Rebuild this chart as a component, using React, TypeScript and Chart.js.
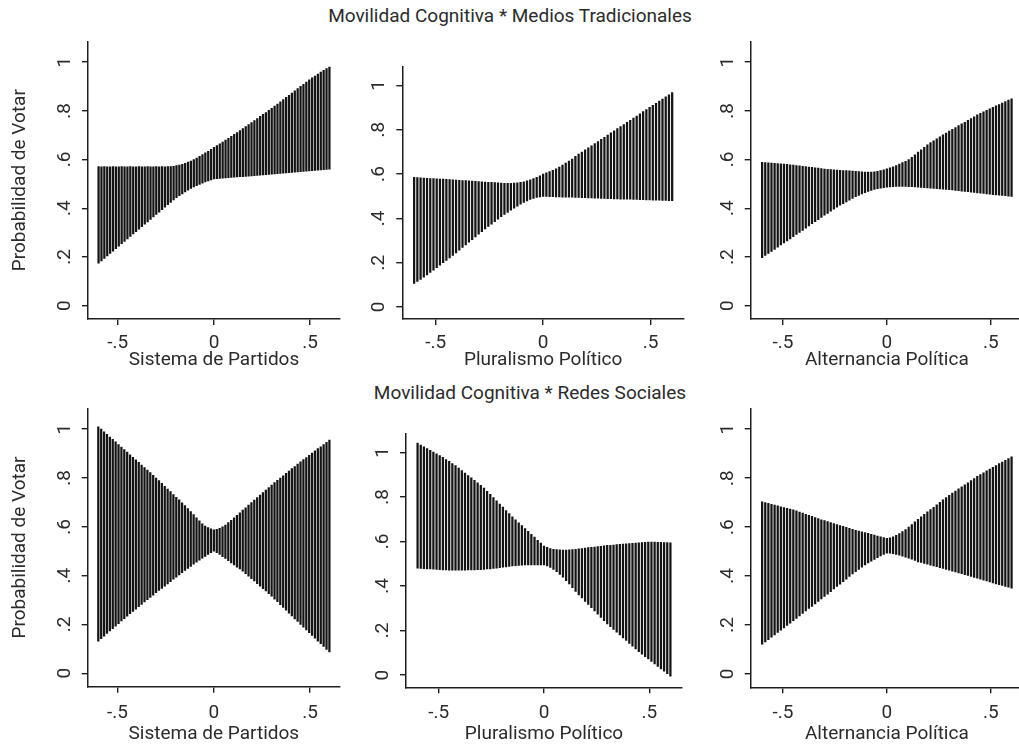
import React, { useEffect, useRef } from 'react';
import { Chart, registerables } from 'chart.js';

Chart.register(...registerables);

// ---------- data ----------
const X = [
  -0.6, -0.585, -0.57, -0.555, -0.54, -0.525, -0.51, -0.495, -0.48, -0.465,
  -0.45, -0.435, -0.42, -0.405, -0.39, -0.375, -0.36, -0.345, -0.33, -0.315,
  -0.3, -0.285, -0.27, -0.255, -0.24, -0.225, -0.21, -0.195, -0.18, -0.165,
  -0.15, -0.135, -0.12, -0.105, -0.09, -0.075, -0.06, -0.045, -0.03, -0.015,
  0, 0.015, 0.03, 0.045, 0.06, 0.075, 0.09, 0.105, 0.12, 0.135,
  0.15, 0.165, 0.18, 0.195, 0.21, 0.225, 0.24, 0.255, 0.27, 0.285,
  0.3, 0.315, 0.33, 0.345, 0.36, 0.375, 0.39, 0.405, 0.42, 0.435,
  0.45, 0.465, 0.48, 0.495, 0.51, 0.525, 0.54, 0.555, 0.57, 0.585,
  0.6,
];

const Y_TICKS = [0, 0.2, 0.4, 0.6, 0.8, 1];
const Y_TICK_LABELS = ['0', '.2', '.4', '.6', '.8', '1'];
const X_TICKS = [-0.5, 0, 0.5];
const X_TICK_LABELS = ['-.5', '0', '.5'];

const ROW_TITLES = ['Movilidad Cognitiva * Medios Tradicionales', 'Movilidad Cognitiva * Redes Sociales'];
const X_TITLES = ['Sistema de Partidos', 'Pluralismo Político', 'Alternancia Política'];
const Y_TITLE = 'Probabilidad de Votar';

// Medios Tradicionales
const MT_SIS_LO = [
  0.174, 0.184, 0.194, 0.204, 0.214, 0.224, 0.234, 0.244, 0.254, 0.264,
  0.274, 0.284, 0.294, 0.304, 0.314, 0.324, 0.334, 0.344, 0.354, 0.364,
  0.374, 0.384, 0.394, 0.404, 0.414, 0.424, 0.434, 0.443, 0.451, 0.459,
  0.467, 0.474, 0.481, 0.487, 0.493, 0.498, 0.503, 0.508, 0.512, 0.516,
  0.520, 0.521, 0.522, 0.523, 0.524, 0.525, 0.526, 0.527, 0.528, 0.529,
  0.530, 0.531, 0.532, 0.533, 0.534, 0.535, 0.536, 0.537, 0.538, 0.539,
  0.540, 0.541, 0.542, 0.543, 0.544, 0.545, 0.546, 0.547, 0.548, 0.549,
  0.550, 0.551, 0.552, 0.553, 0.554, 0.555, 0.556, 0.557, 0.558, 0.559,
  0.560,
];
const MT_SIS_HI = [
  0.571, 0.570, 0.571, 0.570, 0.570, 0.571, 0.570, 0.570, 0.571, 0.570,
  0.570, 0.571, 0.570, 0.570, 0.571, 0.570, 0.570, 0.571, 0.570, 0.570,
  0.571, 0.570, 0.571, 0.570, 0.571, 0.571, 0.572, 0.575, 0.577, 0.580,
  0.584, 0.589, 0.594, 0.600, 0.606, 0.613, 0.620, 0.627, 0.634, 0.642,
  0.650, 0.657, 0.664, 0.672, 0.680, 0.687, 0.695, 0.703, 0.711, 0.719,
  0.727, 0.735, 0.743, 0.752, 0.760, 0.768, 0.777, 0.785, 0.793, 0.802,
  0.810, 0.819, 0.828, 0.837, 0.846, 0.855, 0.864, 0.873, 0.882, 0.891,
  0.900, 0.909, 0.918, 0.927, 0.935, 0.943, 0.951, 0.959, 0.966, 0.973,
  0.980,
];
const MT_PLU_LO = [
  0.106, 0.115, 0.124, 0.134, 0.144, 0.155, 0.166, 0.177, 0.188, 0.199,
  0.210, 0.221, 0.232, 0.244, 0.256, 0.268, 0.280, 0.292, 0.304, 0.316,
  0.328, 0.340, 0.352, 0.363, 0.374, 0.385, 0.396, 0.407, 0.417, 0.427,
  0.437, 0.446, 0.455, 0.464, 0.472, 0.479, 0.485, 0.490, 0.494, 0.497,
  0.499, 0.499, 0.498, 0.498, 0.497, 0.497, 0.496, 0.496, 0.495, 0.495,
  0.494, 0.494, 0.493, 0.493, 0.492, 0.492, 0.491, 0.491, 0.490, 0.490,
  0.489, 0.489, 0.488, 0.488, 0.487, 0.487, 0.486, 0.486, 0.485, 0.485,
  0.484, 0.484, 0.483, 0.483, 0.482, 0.482, 0.482, 0.481, 0.481, 0.480,
  0.480,
];
const MT_PLU_HI = [
  0.585, 0.584, 0.583, 0.582, 0.581, 0.580, 0.579, 0.578, 0.577, 0.577,
  0.576, 0.575, 0.574, 0.573, 0.572, 0.571, 0.570, 0.569, 0.568, 0.567,
  0.566, 0.565, 0.564, 0.563, 0.562, 0.561, 0.560, 0.559, 0.558, 0.558,
  0.558, 0.559, 0.560, 0.562, 0.565, 0.569, 0.574, 0.579, 0.585, 0.592,
  0.600, 0.605, 0.611, 0.617, 0.624, 0.632, 0.640, 0.649, 0.658, 0.668,
  0.680, 0.690, 0.699, 0.709, 0.718, 0.728, 0.738, 0.747, 0.757, 0.766,
  0.776, 0.786, 0.795, 0.805, 0.814, 0.824, 0.834, 0.843, 0.853, 0.862,
  0.872, 0.882, 0.891, 0.901, 0.910, 0.920, 0.930, 0.939, 0.949, 0.958,
  0.968,
];
const MT_ALT_LO = [
  0.197, 0.206, 0.214, 0.223, 0.231, 0.240, 0.249, 0.257, 0.266, 0.274,
  0.283, 0.292, 0.301, 0.309, 0.318, 0.327, 0.336, 0.345, 0.353, 0.362,
  0.371, 0.379, 0.388, 0.396, 0.404, 0.412, 0.419, 0.426, 0.433, 0.440,
  0.447, 0.453, 0.459, 0.464, 0.469, 0.473, 0.477, 0.480, 0.482, 0.484,
  0.486, 0.487, 0.488, 0.489, 0.489, 0.489, 0.489, 0.488, 0.488, 0.487,
  0.486, 0.485, 0.484, 0.483, 0.482, 0.481, 0.480, 0.479, 0.478, 0.477,
  0.476, 0.475, 0.473, 0.472, 0.470, 0.469, 0.468, 0.466, 0.465, 0.463,
  0.462, 0.461, 0.459, 0.458, 0.456, 0.455, 0.454, 0.452, 0.451, 0.449,
  0.448,
];
const MT_ALT_HI = [
  0.588, 0.587, 0.586, 0.585, 0.584, 0.583, 0.582, 0.581, 0.580, 0.578,
  0.577, 0.575, 0.574, 0.572, 0.571, 0.569, 0.568, 0.566, 0.565, 0.563,
  0.561, 0.560, 0.559, 0.558, 0.557, 0.556, 0.555, 0.554, 0.553, 0.552,
  0.551, 0.550, 0.549, 0.548, 0.548, 0.548, 0.549, 0.551, 0.554, 0.558,
  0.562, 0.566, 0.570, 0.575, 0.581, 0.587, 0.593, 0.600, 0.609, 0.619,
  0.630, 0.640, 0.650, 0.660, 0.669, 0.677, 0.685, 0.693, 0.701, 0.709,
  0.717, 0.724, 0.731, 0.739, 0.746, 0.753, 0.761, 0.768, 0.775, 0.783,
  0.790, 0.796, 0.802, 0.808, 0.814, 0.820, 0.826, 0.832, 0.838, 0.844,
  0.849,
];

// Redes Sociales
const RS_SIS_LO = [
  0.132, 0.142, 0.152, 0.163, 0.173, 0.183, 0.193, 0.203, 0.214, 0.224,
  0.234, 0.244, 0.253, 0.263, 0.273, 0.282, 0.292, 0.301, 0.311, 0.320,
  0.330, 0.339, 0.348, 0.357, 0.366, 0.375, 0.385, 0.394, 0.403, 0.412,
  0.421, 0.430, 0.438, 0.447, 0.455, 0.463, 0.471, 0.479, 0.487, 0.494,
  0.500, 0.494, 0.487, 0.478, 0.470, 0.461, 0.452, 0.444, 0.435, 0.427,
  0.418, 0.408, 0.398, 0.388, 0.378, 0.367, 0.357, 0.347, 0.337, 0.326,
  0.316, 0.304, 0.293, 0.281, 0.270, 0.258, 0.246, 0.235, 0.223, 0.212,
  0.200, 0.189, 0.178, 0.166, 0.155, 0.144, 0.132, 0.121, 0.110, 0.098,
  0.087,
];
const RS_SIS_HI = [
  1.010, 1.000, 0.989, 0.979, 0.968, 0.958, 0.948, 0.937, 0.927, 0.916,
  0.906, 0.895, 0.885, 0.874, 0.864, 0.853, 0.843, 0.832, 0.822, 0.811,
  0.800, 0.789, 0.778, 0.766, 0.755, 0.744, 0.732, 0.721, 0.710, 0.698,
  0.687, 0.675, 0.662, 0.650, 0.637, 0.624, 0.612, 0.603, 0.597, 0.592,
  0.588, 0.590, 0.594, 0.600, 0.607, 0.617, 0.627, 0.637, 0.647, 0.657,
  0.668, 0.678, 0.689, 0.699, 0.709, 0.720, 0.730, 0.740, 0.750, 0.761,
  0.771, 0.781, 0.790, 0.800, 0.809, 0.819, 0.828, 0.838, 0.847, 0.857,
  0.866, 0.875, 0.884, 0.893, 0.902, 0.911, 0.920, 0.928, 0.937, 0.946,
  0.955,
];
const RS_PLU_LO = [
  0.480, 0.479, 0.478, 0.477, 0.476, 0.475, 0.474, 0.473, 0.472, 0.472,
  0.471, 0.471, 0.471, 0.471, 0.471, 0.471, 0.472, 0.472, 0.472, 0.473,
  0.473, 0.474, 0.476, 0.477, 0.479, 0.480, 0.482, 0.484, 0.486, 0.488,
  0.490, 0.491, 0.492, 0.493, 0.494, 0.494, 0.495, 0.495, 0.495, 0.495,
  0.495, 0.490, 0.483, 0.474, 0.464, 0.452, 0.439, 0.424, 0.409, 0.392,
  0.375, 0.360, 0.346, 0.331, 0.317, 0.302, 0.288, 0.273, 0.259, 0.244,
  0.230, 0.217, 0.205, 0.192, 0.180, 0.167, 0.155, 0.142, 0.130, 0.117,
  0.105, 0.094, 0.083, 0.072, 0.061, 0.050, 0.039, 0.028, 0.017, 0.006,
  -0.005,
];
const RS_PLU_HI = [
  1.041, 1.033, 1.025, 1.017, 1.009, 1.001, 0.993, 0.985, 0.977, 0.968,
  0.960, 0.950, 0.940, 0.929, 0.918, 0.907, 0.896, 0.885, 0.874, 0.863,
  0.852, 0.839, 0.825, 0.811, 0.797, 0.782, 0.768, 0.754, 0.739, 0.725,
  0.710, 0.697, 0.684, 0.671, 0.658, 0.645, 0.632, 0.619, 0.605, 0.592,
  0.579, 0.573, 0.568, 0.565, 0.563, 0.562, 0.561, 0.561, 0.562, 0.563,
  0.565, 0.567, 0.568, 0.570, 0.572, 0.573, 0.575, 0.577, 0.578, 0.580,
  0.582, 0.583, 0.584, 0.586, 0.587, 0.588, 0.589, 0.590, 0.591, 0.593,
  0.594, 0.595, 0.596, 0.597, 0.597, 0.597, 0.596, 0.596, 0.595, 0.595,
  0.594,
];
const RS_ALT_LO = [
  0.121, 0.131, 0.140, 0.150, 0.159, 0.169, 0.179, 0.188, 0.198, 0.207,
  0.217, 0.227, 0.237, 0.247, 0.257, 0.267, 0.276, 0.286, 0.296, 0.306,
  0.316, 0.326, 0.336, 0.347, 0.357, 0.367, 0.377, 0.387, 0.398, 0.408,
  0.418, 0.427, 0.436, 0.445, 0.453, 0.461, 0.468, 0.475, 0.482, 0.488,
  0.493, 0.493, 0.491, 0.488, 0.485, 0.481, 0.477, 0.473, 0.469, 0.464,
  0.458, 0.455, 0.451, 0.448, 0.444, 0.441, 0.438, 0.434, 0.431, 0.427,
  0.424, 0.420, 0.417, 0.413, 0.409, 0.405, 0.402, 0.398, 0.394, 0.391,
  0.387, 0.383, 0.380, 0.376, 0.372, 0.368, 0.365, 0.361, 0.357, 0.354,
  0.350,
];
const RS_ALT_HI = [
  0.703, 0.700, 0.697, 0.693, 0.690, 0.687, 0.683, 0.680, 0.677, 0.673,
  0.670, 0.666, 0.661, 0.657, 0.652, 0.648, 0.644, 0.639, 0.635, 0.630,
  0.626, 0.622, 0.618, 0.614, 0.610, 0.606, 0.603, 0.599, 0.595, 0.591,
  0.587, 0.584, 0.580, 0.577, 0.574, 0.570, 0.567, 0.563, 0.560, 0.557,
  0.554, 0.556, 0.560, 0.566, 0.573, 0.581, 0.590, 0.600, 0.610, 0.621,
  0.632, 0.642, 0.652, 0.662, 0.671, 0.681, 0.691, 0.701, 0.711, 0.720,
  0.730, 0.739, 0.747, 0.756, 0.764, 0.773, 0.781, 0.790, 0.798, 0.807,
  0.815, 0.822, 0.830, 0.837, 0.844, 0.851, 0.859, 0.866, 0.873, 0.880,
  0.887,
];

// ---------- layout / style ----------
const FONT = { family: 'Roboto, "Liberation Sans", sans-serif', size: 19 };
const TEXT = '#2b2b2b';
const AXIS = '#1e1e1e';
const BAR = '#141414';
const X_MIN = -0.655;
const X_MAX = 0.655;
const Y_MIN = -0.055;
const Y_MAX = 1.085;

type Area = { l: number; t: number; r: number; b: number };
type PanelDef = {
  lo: number[]; hi: number[]; xTitle: string; yTitle: boolean; area: Area;
  canvasBottom: number; xTitlePad: number; xTickPad: number;
};

const PANELS: PanelDef[] = [
  { lo: MT_SIS_LO, hi: MT_SIS_HI, xTitle: X_TITLES[0], yTitle: true, area: { l: 88, t: 41, r: 340, b: 319 }, canvasBottom: 375, xTitlePad: 3.6, xTickPad: 7 },
  { lo: MT_PLU_LO, hi: MT_PLU_HI, xTitle: X_TITLES[1], yTitle: false, area: { l: 402.3, t: 66.7, r: 684, b: 319 }, canvasBottom: 375, xTitlePad: 3.6, xTickPad: 7 },
  { lo: MT_ALT_LO, hi: MT_ALT_HI, xTitle: X_TITLES[2], yTitle: false, area: { l: 750.7, t: 41, r: 1023, b: 319 }, canvasBottom: 375, xTitlePad: 3.6, xTickPad: 7 },
  { lo: RS_SIS_LO, hi: RS_SIS_HI, xTitle: X_TITLES[0], yTitle: true, area: { l: 87.7, t: 408, r: 340, b: 686.7 }, canvasBottom: 750, xTitlePad: 4.6, xTickPad: 9 },
  { lo: RS_PLU_LO, hi: RS_PLU_HI, xTitle: X_TITLES[1], yTitle: false, area: { l: 406, t: 433.3, r: 682, b: 687.3 }, canvasBottom: 750, xTitlePad: 4.6, xTickPad: 9 },
  { lo: RS_ALT_LO, hi: RS_ALT_HI, xTitle: X_TITLES[2], yTitle: false, area: { l: 750.7, t: 408, r: 1023, b: 687.3 }, canvasBottom: 750, xTitlePad: 4.6, xTickPad: 9 },
];

const ROW_TITLE_POS = [
  { cx: 510, top: 5 },
  { cx: 530, top: 382 },
];

function labelFor(list: number[], labels: string[], v: number) {
  const k = list.findIndex((t) => Math.abs(t - v) < 1e-9);
  return k >= 0 ? labels[k] : '';
}

function Panel({ p }: { p: PanelDef }) {
  const ref = useRef<HTMLCanvasElement | null>(null);
  const cl = Math.floor(p.yTitle ? 0 : p.area.l - 60);
  const ct = Math.floor(p.area.t - 20);
  const cw = Math.ceil(p.area.r + 4) - cl;
  const ch = p.canvasBottom - ct;

  useEffect(() => {
    if (!ref.current) return;
    const yW = p.area.l - cl;
    const padTop = p.area.t - ct;
    const padRight = cw - (p.area.r - cl);
    const xH = p.canvasBottom - p.area.b;
    const chart = new Chart(ref.current, {
      type: 'bar',
      data: {
        datasets: [
          {
            data: X.map((x, i) => ({ x, y: [p.lo[i], p.hi[i]] })) as any,
            backgroundColor: BAR,
            borderWidth: 0,
            barThickness: 1.6,
          },
        ],
      },
      options: {
        animation: false,
        responsive: false,
        devicePixelRatio: 1,
        layout: { padding: { left: 0, top: padTop, right: padRight, bottom: 0 } },
        plugins: { legend: { display: false }, tooltip: { enabled: false } },
        scales: {
          x: {
            type: 'linear',
            min: X_MIN,
            max: X_MAX,
            offset: false,
            afterBuildTicks: (s: any) => { s.ticks = X_TICKS.map((v) => ({ value: v })); },
            afterFit: (s: any) => { s.height = xH; },
            ticks: {
              autoSkip: false,
              maxRotation: 0,
              padding: p.xTickPad,
              font: FONT,
              color: TEXT,
              callback: (v: any) => labelFor(X_TICKS, X_TICK_LABELS, Number(v)),
            },
            grid: { display: true, offset: false, drawOnChartArea: false, drawTicks: true, tickLength: 6, color: AXIS, lineWidth: 1.4 },
            border: { display: true, color: AXIS, width: 1.5 },
            title: { display: true, text: p.xTitle, font: FONT, color: TEXT, padding: { top: 0, bottom: p.xTitlePad } },
          },
          y: {
            type: 'linear',
            min: Y_MIN,
            max: Y_MAX,
            afterBuildTicks: (s: any) => { s.ticks = Y_TICKS.map((v) => ({ value: v })); },
            afterFit: (s: any) => { s.width = yW; },
            ticks: {
              autoSkip: false,
              minRotation: 90,
              maxRotation: 90,
              crossAlign: 'center',
              padding: 9,
              font: FONT,
              color: TEXT,
              callback: (v: any) => labelFor(Y_TICKS, Y_TICK_LABELS, Number(v)),
            },
            grid: { display: true, drawOnChartArea: false, drawTicks: true, tickLength: 6, color: AXIS, lineWidth: 1.4 },
            border: { display: true, color: AXIS, width: 1.5 },
            title: { display: p.yTitle, text: Y_TITLE, font: FONT, color: TEXT, padding: { top: 8.4, bottom: 0 } },
          },
        },
      } as any,
    });
    return () => chart.destroy();
  }, []);

  return (
    <canvas
      ref={ref}
      width={cw}
      height={ch}
      style={{ position: 'absolute', left: cl, top: ct, width: cw, height: ch, display: 'block' }}
    />
  );
}

export default function App() {
  return (
    <div style={{ position: 'absolute', left: 0, top: 0, width: 1019, height: 750, overflow: 'hidden', background: '#fff' }}>
      {ROW_TITLES.map((t, i) => (
        <div
          key={t}
          style={{
            position: 'absolute',
            left: ROW_TITLE_POS[i].cx - 300,
            top: ROW_TITLE_POS[i].top,
            width: 600,
            textAlign: 'center',
            fontFamily: FONT.family,
            fontSize: 19,
            lineHeight: '22px',
            color: TEXT,
            whiteSpace: 'nowrap',
          }}
        >
          {t}
        </div>
      ))}
      {PANELS.map((p, i) => (
        <Panel key={i} p={p} />
      ))}
    </div>
  );
}
